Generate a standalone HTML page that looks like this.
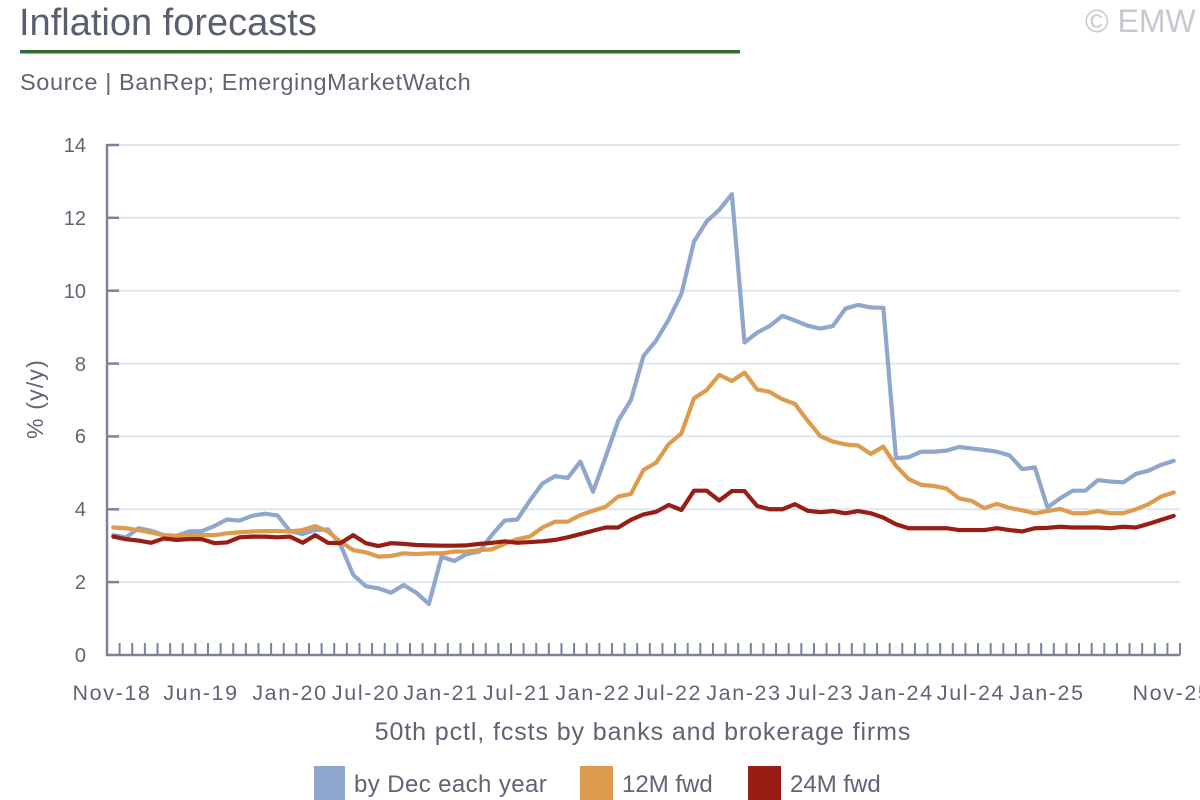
<!DOCTYPE html>
<html>
<head>
<meta charset="utf-8">
<style>
html,body{margin:0;padding:0;background:#fff;}
body{width:1200px;height:800px;overflow:hidden;position:relative;font-family:"Liberation Sans",sans-serif;}
svg{position:absolute;left:0;top:0;}
</style>
</head>
<body>
<svg width="1200" height="800" viewBox="0 0 1200 800" xmlns="http://www.w3.org/2000/svg">
  <!-- Header -->
  <text x="19" y="35" font-family="Liberation Sans, sans-serif" font-size="38" fill="#5a5f6f">Inflation forecasts</text>
  <rect x="20" y="50" width="720" height="3.5" fill="#2f6b2e"/>
  <text x="20" y="90" font-family="Liberation Sans, sans-serif" font-size="23.5" letter-spacing="0.6" fill="#5f6474">Source | BanRep; EmergingMarketWatch</text>
  <text x="1085" y="32" font-family="Liberation Sans, sans-serif" font-size="32" fill="#c6c9d0">© EMW</text>

  <!-- Gridlines -->
  <g stroke="#dce6f1" stroke-width="2">
    <line x1="119" y1="582.1" x2="1180" y2="582.1"/>
    <line x1="119" y1="509.3" x2="1180" y2="509.3"/>
    <line x1="119" y1="436.4" x2="1180" y2="436.4"/>
    <line x1="119" y1="363.6" x2="1180" y2="363.6"/>
    <line x1="119" y1="290.7" x2="1180" y2="290.7"/>
    <line x1="119" y1="217.8" x2="1180" y2="217.8"/>
    <line x1="119" y1="145" x2="1180" y2="145"/>
  </g>

  <!-- Axes -->
  <g stroke="#7b8397" stroke-width="2.5">
    <line x1="107" y1="144" x2="107" y2="656"/>
    <line x1="106" y1="655" x2="1180" y2="655"/>
  </g>
  <g stroke="#7b8397" stroke-width="2.5">
    <line x1="107" y1="582.1" x2="119" y2="582.1"/>
    <line x1="107" y1="509.3" x2="119" y2="509.3"/>
    <line x1="107" y1="436.4" x2="119" y2="436.4"/>
    <line x1="107" y1="363.6" x2="119" y2="363.6"/>
    <line x1="107" y1="290.7" x2="119" y2="290.7"/>
    <line x1="107" y1="217.8" x2="119" y2="217.8"/>
    <line x1="107" y1="145" x2="119" y2="145"/>
  </g>
  <!-- x ticks -->
  <g transform="translate(107,0)">
    <path stroke="#7b8397" stroke-width="2" fill="none" d="M12.62,643V655M25.25,643V655M37.87,643V655M50.5,643V655M63.12,643V655M75.74,643V655M88.37,643V655M100.99,643V655M113.62,643V655M126.24,643V655M138.86,643V655M151.49,643V655M164.11,643V655M176.74,643V655M189.36,643V655M201.98,643V655M214.61,643V655M227.23,643V655M239.86,643V655M252.48,643V655M265.1,643V655M277.73,643V655M290.35,643V655M302.98,643V655M315.6,643V655M328.22,643V655M340.85,643V655M353.47,643V655M366.1,643V655M378.72,643V655M391.34,643V655M403.97,643V655M416.59,643V655M429.22,643V655M441.84,643V655M454.46,643V655M467.09,643V655M479.71,643V655M492.34,643V655M504.96,643V655M517.58,643V655M530.21,643V655M542.83,643V655M555.46,643V655M568.08,643V655M580.7,643V655M593.33,643V655M605.95,643V655M618.58,643V655M631.2,643V655M643.82,643V655M656.45,643V655M669.07,643V655M681.7,643V655M694.32,643V655M706.94,643V655M719.57,643V655M732.19,643V655M744.82,643V655M757.44,643V655M770.06,643V655M782.69,643V655M795.31,643V655M807.94,643V655M820.56,643V655M833.18,643V655M845.81,643V655M858.43,643V655M871.06,643V655M883.68,643V655M896.3,643V655M908.93,643V655M921.55,643V655M934.18,643V655M946.8,643V655M959.42,643V655M972.05,643V655M984.67,643V655M997.3,643V655M1009.92,643V655M1022.54,643V655M1035.17,643V655M1047.79,643V655M1060.42,643V655M1073.04,643V655"/>
  </g>

  <!-- Y labels -->
  <g font-family="Liberation Sans, sans-serif" font-size="20" fill="#5f6474" text-anchor="end">
    <text x="86" y="662">0</text>
    <text x="86" y="589">2</text>
    <text x="86" y="516">4</text>
    <text x="86" y="443">6</text>
    <text x="86" y="371">8</text>
    <text x="86" y="298">10</text>
    <text x="86" y="225">12</text>
    <text x="86" y="152">14</text>
  </g>
  <text transform="translate(43,399) rotate(-90)" text-anchor="middle" font-family="Liberation Sans, sans-serif" font-size="23" letter-spacing="1.2" fill="#5f6474">% (y/y)</text>

  <!-- X labels -->
  <g font-family="Liberation Sans, sans-serif" font-size="21.5" fill="#5f6474" text-anchor="middle" letter-spacing="1.6">
    <text x="112" y="700">Nov-18</text>
    <text x="201" y="700">Jun-19</text>
    <text x="290" y="700">Jan-20</text>
    <text x="366" y="700">Jul-20</text>
    <text x="441" y="700">Jan-21</text>
    <text x="517" y="700">Jul-21</text>
    <text x="593" y="700">Jan-22</text>
    <text x="668" y="700">Jul-22</text>
    <text x="744" y="700">Jan-23</text>
    <text x="820" y="700">Jul-23</text>
    <text x="896" y="700">Jan-24</text>
    <text x="971" y="700">Jul-24</text>
    <text x="1047" y="700">Jan-25</text>
    <text x="1172" y="700">Nov-25</text>
  </g>
  <text x="643" y="740" text-anchor="middle" font-family="Liberation Sans, sans-serif" font-size="25" letter-spacing="0.9" fill="#5f6474">50th pctl, fcsts by banks and brokerage firms</text>

  <!-- Series -->
  <g transform="translate(113.3,655) scale(12.624,-36.43)" fill="none" stroke-linejoin="round" stroke-linecap="round">
    <polyline vector-effect="non-scaling-stroke" stroke="#8fa7cc" stroke-width="4.2" points="0,3.29 1,3.23 2,3.48 3,3.41 4,3.29 5,3.27 6,3.39 7,3.40 8,3.54 9,3.72 10,3.69 11,3.82 12,3.88 13,3.83 14,3.40 15,3.32 16,3.43 17,3.45 18,3.02 19,2.20 20,1.89 21,1.83 22,1.71 23,1.92 24,1.71 25,1.40 26,2.70 27,2.58 28,2.77 29,2.84 30,3.30 31,3.69 32,3.72 33,4.24 34,4.71 35,4.91 36,4.86 37,5.31 38,4.48 39,5.44 40,6.43 41,7.00 42,8.21 43,8.63 44,9.21 45,9.91 46,11.35 47,11.90 48,12.22 49,12.65 50,8.58 51,8.85 52,9.03 53,9.31 54,9.18 55,9.04 56,8.96 57,9.03 58,9.51 59,9.61 60,9.54 61,9.53 62,5.40 63,5.43 64,5.58 65,5.58 66,5.61 67,5.71 68,5.67 69,5.63 70,5.58 71,5.48 72,5.10 73,5.15 74,4.05 75,4.30 76,4.51 77,4.51 78,4.80 79,4.76 80,4.74 81,4.97 82,5.06 83,5.22 84,5.33"/>
    <polyline vector-effect="non-scaling-stroke" stroke="#dd9b4d" stroke-width="4.2" points="0,3.50 1,3.48 2,3.43 3,3.36 4,3.29 5,3.27 6,3.29 7,3.29 8,3.29 9,3.34 10,3.37 11,3.39 12,3.40 13,3.40 14,3.39 15,3.43 16,3.54 17,3.39 18,3.11 19,2.88 20,2.82 21,2.70 22,2.72 23,2.79 24,2.77 25,2.79 26,2.79 27,2.84 28,2.84 29,2.88 30,2.90 31,3.05 32,3.18 33,3.25 34,3.50 35,3.66 36,3.66 37,3.84 38,3.96 39,4.07 40,4.35 41,4.42 42,5.08 43,5.28 44,5.79 45,6.08 46,7.05 47,7.27 48,7.69 49,7.52 50,7.75 51,7.29 52,7.22 53,7.02 54,6.89 55,6.43 56,6.01 57,5.86 58,5.78 59,5.75 60,5.52 61,5.72 62,5.19 63,4.83 64,4.67 65,4.64 66,4.57 67,4.30 68,4.23 69,4.03 70,4.15 71,4.04 72,3.97 73,3.89 74,3.95 75,4.01 76,3.89 77,3.89 78,3.95 79,3.89 80,3.89 81,4.00 82,4.14 83,4.35 84,4.46"/>
    <polyline vector-effect="non-scaling-stroke" stroke="#971d15" stroke-width="4.2" points="0,3.25 1,3.18 2,3.14 3,3.08 4,3.20 5,3.16 6,3.18 7,3.18 8,3.07 9,3.09 10,3.23 11,3.25 12,3.25 13,3.23 14,3.25 15,3.08 16,3.29 17,3.08 18,3.07 19,3.29 20,3.07 21,2.99 22,3.07 23,3.05 24,3.02 25,3.01 26,3.00 27,3.00 28,3.01 29,3.05 30,3.08 31,3.12 32,3.08 33,3.10 34,3.12 35,3.16 36,3.23 37,3.32 38,3.41 39,3.50 40,3.50 41,3.71 42,3.86 43,3.93 44,4.12 45,3.98 46,4.51 47,4.51 48,4.24 49,4.50 50,4.50 51,4.09 52,4.00 53,4.00 54,4.14 55,3.96 56,3.92 57,3.95 58,3.89 59,3.95 60,3.89 61,3.77 62,3.59 63,3.48 64,3.48 65,3.48 66,3.48 67,3.43 68,3.43 69,3.43 70,3.48 71,3.43 72,3.39 73,3.48 74,3.49 75,3.52 76,3.50 77,3.50 78,3.50 79,3.48 80,3.52 81,3.50 82,3.60 83,3.71 84,3.82"/>
  </g>

  <!-- Legend -->
  <rect x="314" y="766" width="31" height="34" fill="#8fa7cc"/>
  <text x="354" y="792" font-family="Liberation Sans, sans-serif" font-size="24" letter-spacing="0.4" fill="#5f6474">by Dec each year</text>
  <rect x="580" y="766" width="33" height="34" fill="#dd9b4d"/>
  <text x="622" y="792" font-family="Liberation Sans, sans-serif" font-size="24" fill="#5f6474">12M fwd</text>
  <rect x="748" y="766" width="33" height="34" fill="#971d15"/>
  <text x="790" y="792" font-family="Liberation Sans, sans-serif" font-size="24" fill="#5f6474">24M fwd</text>
</svg>
</body>
</html>
